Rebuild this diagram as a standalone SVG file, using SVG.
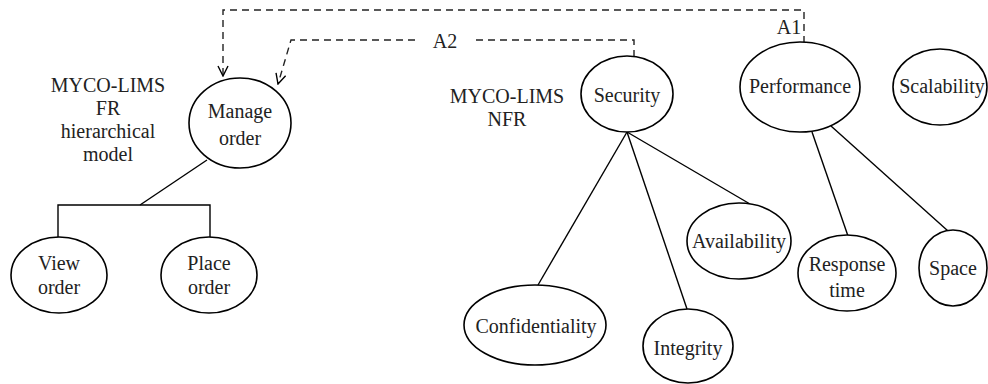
<svg xmlns="http://www.w3.org/2000/svg" width="988" height="384" viewBox="0 0 988 384">
<defs>
<style>
.n ellipse{fill:#fff;stroke:#000;stroke-width:1.6}
.c line,.c polyline{stroke:#000;stroke-width:1.4;fill:none}
.d{stroke:#222;stroke-width:1.4;fill:none;stroke-dasharray:7,5}
</style>
<marker id="ah" viewBox="0 0 12 12" refX="11" refY="6" markerWidth="12" markerHeight="12" markerUnits="userSpaceOnUse" orient="auto">
<path d="M1,1 L11,6 L1,11" fill="none" stroke="#000" stroke-width="1.4"/>
</marker>
</defs>
<rect width="988" height="384" fill="#fff"/>
<g font-family="'Liberation Serif', 'DejaVu Serif', serif" font-size="20" fill="#222" text-anchor="middle">
<g id="connectors" class="c">
<line x1="207" y1="160" x2="140" y2="205"/>
<polyline points="58,237 58,205 210,205 210,238"/>
<line x1="627" y1="132" x2="538" y2="285"/>
<line x1="627" y1="132" x2="687" y2="309"/>
<line x1="627" y1="132" x2="750" y2="204"/>
<line x1="812" y1="132" x2="848" y2="236"/>
<line x1="831" y1="126" x2="948" y2="231"/>
<path class="d" d="M804,43 V10 H223 V76" marker-end="url(#ah)"/>
<path class="d" d="M634,57 V40 H473"/>
<path class="d" d="M415,40 H291 L278,84" marker-end="url(#ah)"/>
<text x="789" y="34">A1</text>
<text x="445" y="48">A2</text>
</g>
<g id="fr-label"><text x="108" y="92">MYCO-LIMS</text><text x="108" y="115">FR</text><text x="108" y="138">hierarchical</text><text x="108" y="161">model</text></g>
<g id="nfr-label"><text x="507" y="103">MYCO-LIMS</text><text x="507" y="126">NFR</text></g>
<g id="manage-order" class="n"><ellipse cx="240" cy="123" rx="51" ry="45"/><text x="240" y="118">Manage</text><text x="240" y="145">order</text></g>
<g id="view-order" class="n"><ellipse cx="59" cy="275" rx="48" ry="38"/><text x="59" y="270">View</text><text x="59" y="294">order</text></g>
<g id="place-order" class="n"><ellipse cx="209" cy="275" rx="48" ry="38"/><text x="209" y="270">Place</text><text x="209" y="294">order</text></g>
<g id="security" class="n"><ellipse cx="627" cy="94" rx="46" ry="38"/><text x="627" y="102">Security</text></g>
<g id="performance" class="n"><ellipse cx="800" cy="87" rx="60" ry="45"/><text x="800" y="93">Performance</text></g>
<g id="scalability" class="n"><ellipse cx="940" cy="87" rx="47" ry="38"/><text x="942" y="93">Scalability</text></g>
<g id="availability" class="n"><ellipse cx="739" cy="241" rx="52" ry="38"/><text x="739" y="248">Availability</text></g>
<g id="confidentiality" class="n"><ellipse cx="535" cy="325" rx="71" ry="40"/><text x="536" y="333">Confidentiality</text></g>
<g id="integrity" class="n"><ellipse cx="688" cy="346" rx="45" ry="37"/><text x="688" y="355">Integrity</text></g>
<g id="response-time" class="n"><ellipse cx="847" cy="273" rx="49" ry="38"/><text x="847" y="271">Response</text><text x="847" y="297">time</text></g>
<g id="space" class="n"><ellipse cx="953" cy="268" rx="34" ry="38"/><text x="953" y="275">Space</text></g>
</g>
</svg>
